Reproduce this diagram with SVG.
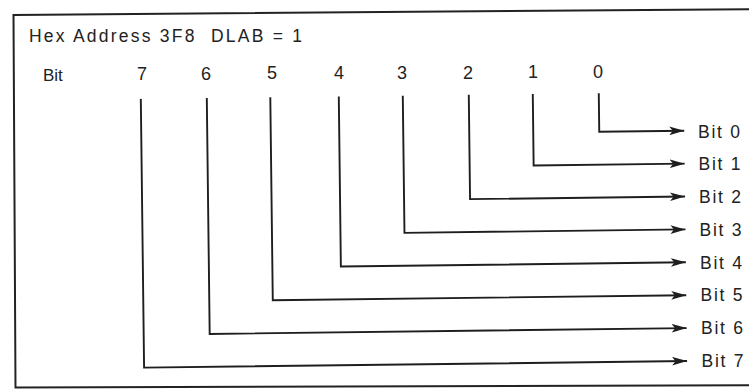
<svg xmlns="http://www.w3.org/2000/svg" width="752" height="389" viewBox="0 0 752 389">
  <style>
    .ln { fill: none; stroke: #1e1e1e; stroke-width: 1.9; stroke-linejoin: miter; }
    .frame { fill: none; stroke: #222; stroke-width: 2; }
    .t { font-family: "Liberation Sans", Arial, sans-serif; fill: #222; white-space: pre; }
    .title { font-size: 17.5px; }
    .hdr { font-size: 17px; }
    .dig { font-size: 18px; text-anchor: middle; }
    .out { font-size: 17.5px; }
  </style>
  <defs>
    <marker id="arr" markerUnits="userSpaceOnUse" markerWidth="16" markerHeight="9" refX="15" refY="4.5" orient="auto">
      <path d="M0,0.2 L15,4.5 L0,8.8 L3.5,4.5 Z" fill="#1e1e1e"/>
    </marker>
  </defs>
  <rect width="752" height="389" fill="#fff"/>

  <path id="frame" class="frame" d="M749,9.2 L13.5,15 L15.5,387.5 L749,385.2"/>

  <g id="title">
    <text class="t title" x="29" y="42" textLength="273" lengthAdjust="spacing">Hex Address 3F8  DLAB = 1</text>
  </g>

  <g id="header">
    <text class="t hdr" x="43" y="80.5">Bit</text>
    <text class="t dig" x="142" y="79.5">7</text>
    <text class="t dig" x="206" y="79.5">6</text>
    <text class="t dig" x="272" y="79">5</text>
    <text class="t dig" x="339" y="79">4</text>
    <text class="t dig" x="402" y="78.5">3</text>
    <text class="t dig" x="468" y="78.5">2</text>
    <text class="t dig" x="533" y="78">1</text>
    <text class="t dig" x="598" y="78">0</text>
  </g>

  <g id="connectors" transform="rotate(-0.7 376 195)">
    <path class="ln" marker-end="url(#arr)" d="M600,96 V134.5 H685"/>
    <path class="ln" marker-end="url(#arr)" d="M534,96 V167.4 H685"/>
    <path class="ln" marker-end="url(#arr)" d="M470,96 V200.3 H685"/>
    <path class="ln" marker-end="url(#arr)" d="M404,96 V233.2 H685"/>
    <path class="ln" marker-end="url(#arr)" d="M340,96 V266.1 H685"/>
    <path class="ln" marker-end="url(#arr)" d="M271.5,96 V299 H685"/>
    <path class="ln" marker-end="url(#arr)" d="M208,96 V331.9 H685"/>
    <path class="ln" marker-end="url(#arr)" d="M142,96 V364.8 H685"/>
  </g>

  <g id="bit0"><text class="t out" x="698" y="137.5" textLength="42" lengthAdjust="spacing">Bit 0</text></g>
  <g id="bit1"><text class="t out" x="698.5" y="170" textLength="42" lengthAdjust="spacing">Bit 1</text></g>
  <g id="bit2"><text class="t out" x="699" y="203" textLength="42" lengthAdjust="spacing">Bit 2</text></g>
  <g id="bit3"><text class="t out" x="699.5" y="235.5" textLength="42" lengthAdjust="spacing">Bit 3</text></g>
  <g id="bit4"><text class="t out" x="700" y="268.5" textLength="42" lengthAdjust="spacing">Bit 4</text></g>
  <g id="bit5"><text class="t out" x="700.5" y="301" textLength="42" lengthAdjust="spacing">Bit 5</text></g>
  <g id="bit6"><text class="t out" x="701" y="334" textLength="42" lengthAdjust="spacing">Bit 6</text></g>
  <g id="bit7"><text class="t out" x="701.5" y="367" textLength="42" lengthAdjust="spacing">Bit 7</text></g>
</svg>
